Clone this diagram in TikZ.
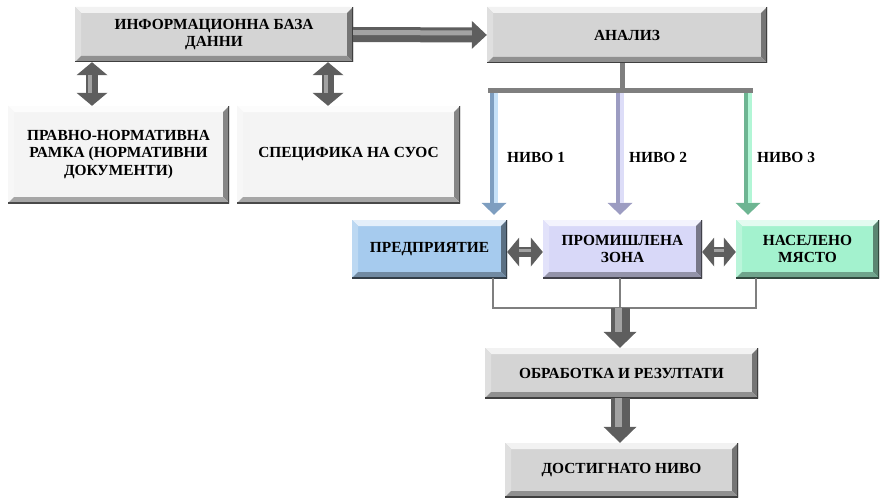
\documentclass[tikz,border=0pt]{standalone}
\usepackage{fontspec}
\setmainfont{Liberation Serif}
\usetikzlibrary{arrows.meta}

\definecolor{boxgray}{HTML}{D4D4D4}
\definecolor{boxwhite}{HTML}{F4F4F4}
\definecolor{boxblue}{HTML}{A6CBEE}
\definecolor{boxlav}{HTML}{D8D8F8}
\definecolor{boxmint}{HTML}{A3F2CE}
\definecolor{arrdark}{HTML}{5E5E5E}
\definecolor{arrlight}{HTML}{A2A2A2}
\definecolor{treegray}{HTML}{7F7F7F}
\definecolor{bluedark}{HTML}{7E9EC0}
\definecolor{bluelight}{HTML}{C6E1F8}
\definecolor{lavdark}{HTML}{9C9CC2}
\definecolor{lavlight}{HTML}{DDDDF8}
\definecolor{mintdark}{HTML}{6DB592}
\definecolor{mintlight}{HTML}{B2F6D6}

\tikzset{
  % raised box with bevelled edges
  bevel/.style={fill=#1, inner sep=0pt, align=center,
    font=\fontsize{15.4}{17.5}\selectfont\bfseries,
    path picture={
      \def\bb{path picture bounding box}
      \fill[#1!30!white] (\bb.north west) -- (\bb.north east)
        -- ([shift={(-6pt,-6pt)}]\bb.north east) -- ([shift={(6pt,-6pt)}]\bb.north west) -- cycle;
      \fill[#1!75!white] (\bb.north west) -- (\bb.south west)
        -- ([shift={(6pt,6pt)}]\bb.south west) -- ([shift={(6pt,-6pt)}]\bb.north west) -- cycle;
      \fill[#1!55!black] (\bb.north east) -- (\bb.south east)
        -- ([shift={(-6pt,6pt)}]\bb.south east) -- ([shift={(-6pt,-6pt)}]\bb.north east) -- cycle;
      \fill[#1!68!black] (\bb.south west) -- (\bb.south east)
        -- ([shift={(-6pt,6pt)}]\bb.south east) -- ([shift={(6pt,6pt)}]\bb.south west) -- cycle;
      \draw[#1!30!black, line width=1.6pt] (\bb.north east) -- (\bb.south east) -- (\bb.south west);
    }},
  tree/.style={treegray, line width=5pt},
  feeder/.style={treegray, line width=1.3pt},
  lvl/.style={font=\fontsize{15.4}{17.5}\selectfont\bfseries, anchor=west, inner sep=0pt},
  % thick grey block arrows
  hdarrow/.style={arrdark, line width=15pt, -{Triangle[width=28pt,length=15pt,line width=0pt]}},
  vdbl/.style={arrdark, line width=12pt,
    {Triangle[width=31pt,length=13pt,line width=0pt]}-{Triangle[width=31pt,length=13pt,line width=0pt]}},
  hdbl/.style={arrdark, line width=10pt,
    {Triangle[width=29pt,length=12pt,line width=0pt]}-{Triangle[width=29pt,length=12pt,line width=0pt]}},
  downarrow/.style={arrdark, line width=19pt, -{Triangle[width=33pt,length=16pt,line width=0pt]}},
  shine/.style={arrlight, line width=#1},
  % coloured level arrows
  lvlarrow/.style={#1, line width=8pt, shorten >=5pt, -{Triangle[width=25pt,length=12pt,line width=0pt]}},
}

\begin{document}
\begin{tikzpicture}[x=1pt, y=-1pt]
  \useasboundingbox (0,0) rectangle (882,500);

  % boxes
  \node[bevel=boxgray, minimum width=278pt, minimum height=55pt] (inf) at (214,34.5)
    {ИНФОРМАЦИОННА БАЗА\\ДАННИ};
  \node[bevel=boxgray, minimum width=280pt, minimum height=56pt] (an) at (627,35) {АНАЛИЗ};
  \node[bevel=boxwhite, minimum width=221pt, minimum height=97pt] (pr) at (118.5,154.5)
    {ПРАВНО-НОРМАТИВНА\\РАМКА (НОРМАТИВНИ\\ДОКУМЕНТИ)};
  \node[bevel=boxwhite, minimum width=223pt, minimum height=97pt] (sp) at (348.5,154.5)
    {СПЕЦИФИКА НА СУОС};
  \node[bevel=boxblue, minimum width=155pt, minimum height=58pt] (pd) at (429.5,249) {ПРЕДПРИЯТИЕ};
  \node[bevel=boxlav, minimum width=159pt, minimum height=58pt] (pz) at (622.5,249)
    {ПРОМИШЛЕНА\\ЗОНА};
  \node[bevel=boxmint, minimum width=143pt, minimum height=58pt] (nm) at (807.5,249)
    {НАСЕЛЕНО\\МЯСТО};
  \node[bevel=boxgray, minimum width=273pt, minimum height=50pt] (ob) at (621.5,373)
    {ОБРАБОТКА И РЕЗУЛТАТИ};
  \node[bevel=boxgray, minimum width=233pt, minimum height=54pt] (dn) at (621.5,470)
    {ДОСТИГНАТО НИВО};

  % data base -> analysis
  \draw[hdarrow] (inf.east) -- (an.west);
  \draw[shine=5pt, shorten >=15pt] ([yshift=2pt]inf.east) -- ([yshift=2pt]an.west);

  % data base <-> documents
  \coordinate (v1) at (92,0);
  \coordinate (v2) at (328,0);
  \foreach \c/\t in {v1/pr, v2/sp}{
    \draw[vdbl] (\c |- inf.south) -- (\c |- \t.north);
    \draw[shine=4pt, shorten <=13pt, shorten >=13pt]
      ([xshift=-2pt]\c |- inf.south) -- ([xshift=-2pt]\c |- \t.north);
  }

  % analysis tree
  \coordinate (tj) at (622,90.5);
  \coordinate (tl) at (488,90.5);
  \coordinate (tr) at (753,90.5);
  \draw[tree] (an.south -| tj) -- (tj);
  \draw[tree] (tl) -- (tr);

  % level arrows
  \coordinate (n1) at (494,93);
  \coordinate (n2) at (620,93);
  \coordinate (n3) at (748,93);
  \coordinate (e1) at (n1 |- pd.north);
  \coordinate (e2) at (n2 |- pz.north);
  \coordinate (e3) at (n3 |- nm.north);
  \foreach \n/\e/\cd/\cl in {n1/e1/bluedark/bluelight, n2/e2/lavdark/lavlight, n3/e3/mintdark/mintlight}{
    \draw[lvlarrow=\cd] (\n) -- (\e);
    \draw[\cl, line width=4pt, shorten >=17pt] ([xshift=2pt]\n) -- ([xshift=2pt]\e);
  }
  \node[lvl] (l1) at (507,157) {НИВО 1};
  \node[lvl] (l2) at (629,157) {НИВО 2};
  \node[lvl] (l3) at (757,157) {НИВО 3};

  % links between the three objects
  \foreach \a/\b in {pd/pz, pz/nm}{
    \draw[hdbl] (\a.east |- 0,252) -- (\b.west |- 0,252);
    \draw[shine=3.5pt, shorten <=12pt, shorten >=12pt]
      ([yshift=1.5pt]\a.east |- 0,252) -- ([yshift=1.5pt]\b.west |- 0,252);
  }

  % collecting lines
  \coordinate (b1) at (493,308);
  \coordinate (b2) at (620,308);
  \coordinate (b3) at (756,308);
  \draw[feeder] (b1 |- pd.south) -- (b1) -- (b3) -- (b3 |- nm.south);
  \draw[feeder] (b2 |- pz.south) -- (b2);

  % processing chain
  \coordinate (d1) at (620,398);
  \draw[downarrow] (b2) -- (b2 |- ob.north);
  \draw[shine=7pt, shorten >=16pt] ([xshift=-2pt]b2) -- ([xshift=-2pt]b2 |- ob.north);
  \draw[downarrow] (d1 |- ob.south) -- (d1 |- dn.north);
  \draw[shine=7pt, shorten >=16pt] ([xshift=-2pt]d1 |- ob.south) -- ([xshift=-2pt]d1 |- dn.north);
\end{tikzpicture}
\end{document}
